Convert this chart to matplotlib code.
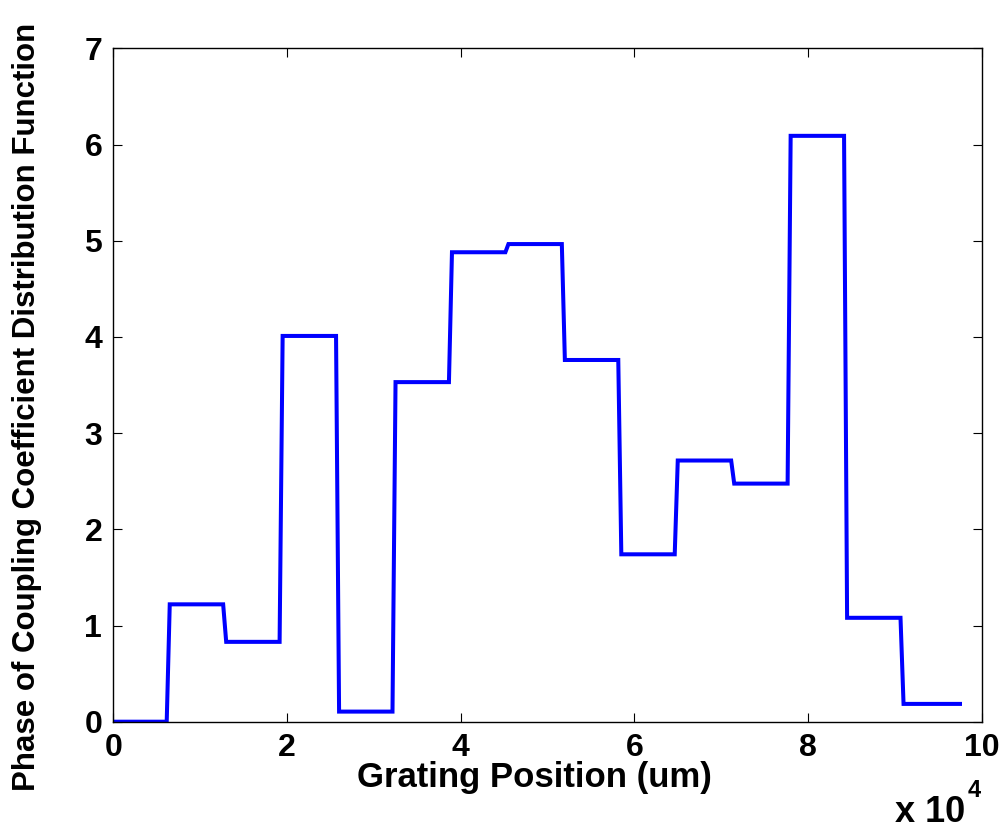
import matplotlib
matplotlib.use("Agg")
import matplotlib.pyplot as plt
import numpy as np

# Segment boundaries of the grating (um) and the phase in each segment
segment_edges_um = [0, 6500, 13000, 19500, 26000, 32500, 39000, 45500, 52000,
                    58500, 65000, 71500, 78000, 84500, 91000, 97500]
phase_values = [0.0, 1.22, 0.83, 4.01, 0.105, 3.53, 4.88, 4.965, 3.76,
                1.74, 2.715, 2.475, 6.09, 1.08, 0.185]
transition_um = 350  # sampling step of the transitions
xticks = [0, 2, 4, 6, 8, 10]
yticks = [0, 1, 2, 3, 4, 5, 6, 7]

# Build the stepped curve from the segment data
xs, ys = [], []
for k, v in enumerate(phase_values):
    start = segment_edges_um[k]
    end = segment_edges_um[k + 1]
    xs += [start, end - transition_um if k < len(phase_values) - 1 else end]
    ys += [v, v]
xs = np.array(xs) / 1e4
ys = np.array(ys)

FONT = "Liberation Sans"
fig = plt.figure(figsize=(10.08, 8.31), dpi=100)
ax = fig.add_axes([113.3 / 1008, 1 - 721.7 / 831, (981.7 - 113.3) / 1008, (721.7 - 48.3) / 831])
ax.plot(xs, ys, color=(0, 0, 1), lw=2.9, solid_joinstyle="miter")

ax.set_xlim(0, 10)
ax.set_ylim(0, 7)
ax.set_xticks(xticks)
ax.set_yticks(yticks)
ax.set_xticklabels([str(t) for t in xticks], fontsize=23, fontweight="bold", family=FONT)
ax.set_yticklabels([str(t) for t in yticks], fontsize=23, fontweight="bold", family=FONT)
ax.tick_params(direction="in", length=6.5, width=0.8, top=True, right=True, pad=8, colors="black")
for s in ax.spines.values():
    s.set_linewidth(1.0)

ax.set_xlabel("Grating Position (um)", fontsize=25, fontweight="bold", family=FONT)
ax.xaxis.set_label_coords(0.4855, -0.058)
ax.set_ylabel("Phase of Coupling Coefficient Distribution Function", fontsize=22.5,
              fontweight="bold", family=FONT)
ax.yaxis.set_label_coords(-0.082, 0.467)

fig.text(895 / 1008, 1 - 821.7 / 831, "x 10", fontsize=26, fontweight="bold", family=FONT,
         ha="left", va="baseline")
fig.text(968 / 1008, 1 - 796.7 / 831, "4", fontsize=17, fontweight="bold", family=FONT,
         ha="left", va="baseline")

fig.savefig("out.png", dpi=100)
